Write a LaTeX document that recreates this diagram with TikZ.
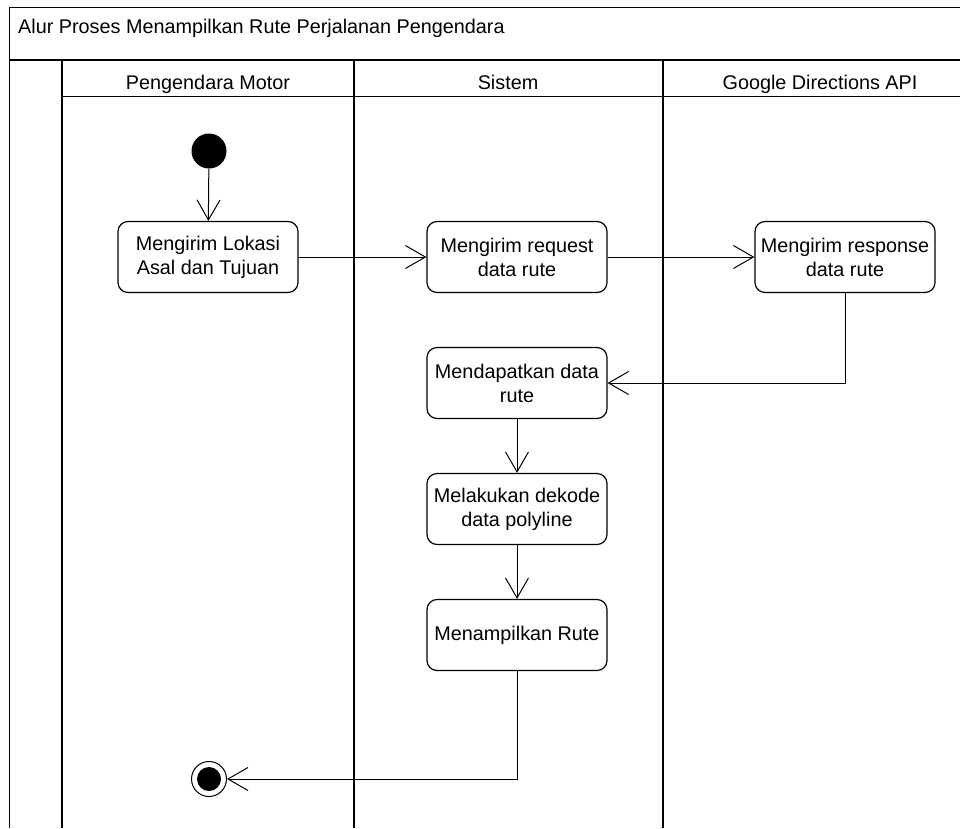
\documentclass[tikz,border=0pt]{standalone}
\usepackage{fontspec}
\setmainfont{Liberation Sans}
\usetikzlibrary{arrows.meta}

\begin{document}
\begin{tikzpicture}[x=1pt,y=-1pt,
   lbl/.style={font=\fontsize{19.8}{24}\selectfont},
   action/.style={lbl,draw,line width=1.2pt,rounded corners=10pt,minimum width=180pt,minimum height=71pt,align=center,inner sep=0pt},
   initial/.style={circle,fill=black,minimum size=35pt,inner sep=0pt},
   final/.style={circle,draw,line width=1pt,minimum size=35pt,inner sep=0pt,path picture={\fill (path picture bounding box.center) circle (12pt);}},
   flow/.style={draw=black,line width=1pt,-{Straight Barb[length=20pt,width=23pt]}}]
   \useasboundingbox (0,0) rectangle (960,828);
   % frame and swimlanes
   \draw[line width=1pt] (9,828) -- (9,7) -- (960,7);
   \draw[line width=2pt] (9,60) -- (960,60);
   \draw[line width=1pt] (62,96) -- (960,96);
   \foreach \x in {62,354,663}
      \draw[line width=2pt] (\x,60) -- (\x,828);
   \node[lbl,anchor=base west,inner sep=0pt] (title) at (18,33) {Alur Proses Menampilkan Rute Perjalanan Pengendara};
   \foreach \lane/\x/\txt in {{motor/208/Pengendara Motor},{sistem/508/Sistem},{google/820/Google Directions API}}
      \node[lbl,anchor=base] (\lane) at (\x,89) {\txt};
   % start and end
   \node[initial] (start) at (209,151) {};
   \node[final] (end) at (209,779) {};
   % actions; format: {name/x/y/text}
   \foreach \n/\x/\y/\txt in {{kirim/208/257/{Mengirim Lokasi\\Asal dan Tujuan}},{request/517/257/{Mengirim request\\data rute}},{response/845/257/{Mengirim response\\data rute}},{dapat/517/383/{Mendapatkan data\\rute}},{dekode/517/509/{Melakukan dekode\\data polyline}},{tampil/517/635/{Menampilkan Rute}}}
      \node[action] (\n) at (\x,\y) {\txt};
   % straight flows; format: {from/to}
   \foreach \from/\to in {{start/kirim},{kirim/request},{request/response},{dapat/dekode},{dekode/tampil}}
      \draw[flow] (\from) -- (\to);
   \draw[flow] (response.south) |- (dapat.east);
   \draw[flow] (tampil.south) |- (end.east);
\end{tikzpicture}
\end{document}
